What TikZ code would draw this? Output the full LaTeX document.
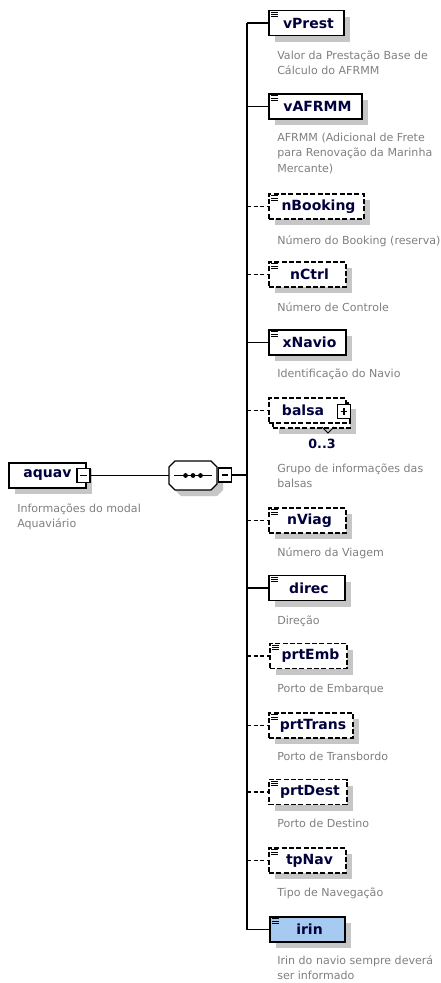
\documentclass[tikz,border=0pt]{standalone}
\usepackage{fontspec}
\setmainfont{DejaVu Sans}
\usetikzlibrary{shadows}
\definecolor{namec}{RGB}{0,0,60}
\definecolor{descc}{RGB}{128,128,128}
\definecolor{shadowc}{RGB}{198,198,198}
\definecolor{irinc}{RGB}{166,202,240}
\tikzset{
  bw/.style={minimum width=#1*0.75pt},
  shad/.style={drop shadow={shadow xshift=4.5pt,shadow yshift=-4.5pt,fill=shadowc,opacity=1}},
  boxbase/.style={rectangle,draw=black,line width=1pt,fill=white,minimum height=18.75pt,inner sep=0pt,font=\bfseries\fontsize{10.5}{12}\selectfont,text=namec},
  elem/.style={boxbase,shad},
  leaf/.style={elem,execute at begin node=\hspace*{3pt}},
  optbox/.style={dash pattern=on 3.75pt off 1.75pt},
  desc/.style={anchor=north west,inner sep=0pt,align=left,text=descc,font=\fontsize{8.3}{11.8}\selectfont},
  conn/.style={line width=0.9pt},
  optconn/.style={conn,dash pattern=on 3pt off 2pt},
  pmbox/.style={rectangle,draw=black,line width=0.8pt,fill=white,minimum width=9.75pt,minimum height=10.5pt,inner sep=0pt},
  iconline/.style={line width=0.6pt},
  pmline/.style={line width=0.8pt},
}
\newcommand\elicon[1]{\foreach \k in {0,1,2}{\draw[iconline] ([shift={(3,2.5+2.2*\k)}]#1.north west) -- ++(6.5,0);}}
\begin{document}
\begin{tikzpicture}[x=0.75pt,y=-0.75pt]
\useasboundingbox[fill=white] (0,0) rectangle (441,983);
\coordinate (spine) at (247,475.5);

% root element
\node[elem,bw=77] (aquav) at (47.5,475.5) {aquav};
\node[pmbox] (aquavpm) at (83.5,475.5) {};
\draw[pmline] ([xshift=-2.6pt]aquavpm.center) -- ([xshift=2.6pt]aquavpm.center);
\node[desc] (aquavd) at (17,501.5) {\vphantom{Á}Informações do modal\\Aquaviário};

% sequence compositor
\node[rectangle,minimum width=36pt,minimum height=21.75pt,inner sep=0pt] (seq) at (193,475.5) {};
\fill[shadowc] (181,467) -- (217,467) -- (223,473) -- (223,490) -- (217,496) -- (181,496) -- (175,490) -- (175,473) -- cycle;
\draw[line width=1pt,fill=white] (175,461) -- (211,461) -- (217,467) -- (217,484) -- (211,490) -- (175,490) -- (169,484) -- (169,467) -- cycle;
\draw[line width=0.9pt] ([xshift=4pt]seq.west) -- ([xshift=-4pt]seq.east);
\foreach \dx in {-5.6,0,5.6} \fill ([xshift=\dx pt]seq.center) circle (1.8pt);
\node[pmbox] (seqpm) at (225,475) {};
\draw[pmline] ([xshift=-2.6pt]seqpm.center) -- ([xshift=2.6pt]seqpm.center);

% children
\node[leaf,bw=75] (vPrest) at (306.5,23) {vPrest};
\node[leaf,bw=93] (vAFRMM) at (315.5,106.5) {vAFRMM};
\node[leaf,optbox,bw=95] (nBooking) at (316.5,206.5) {nBooking};
\node[leaf,optbox,bw=77] (nCtrl) at (307.5,274.5) {nCtrl};
\node[leaf,bw=77] (xNavio) at (307.5,342.5) {xNavio};
\node[elem,optbox,bw=77] (balsaback) at (311.5,415.5) {};
\node[boxbase,optbox,bw=77] (balsa) at (307.5,410.5) {\hspace*{-6.75pt}balsa};
\node[pmbox] (balsapm) at (344,411.5) {};
\draw[pmline] ([xshift=-2.6pt]balsapm.center) -- ([xshift=2.6pt]balsapm.center);
\draw[pmline] ([yshift=-2.6pt]balsapm.center) -- ([yshift=2.6pt]balsapm.center);
\draw[line width=0.6pt] (322,427) -- (328,433) -- (334,427);
\node[font=\bfseries\fontsize{9.5}{11}\selectfont,text=namec,inner sep=0pt] (balsaocc) at (322,444) {0..3};
\node[leaf,optbox,bw=77] (nViag) at (307.5,520.5) {nViag};
\node[leaf,bw=76] (direc) at (307,588) {direc};
\node[leaf,optbox,bw=77] (prtEmb) at (308.5,656) {prtEmb};
\node[leaf,optbox,bw=84] (prtTrans) at (311,725.5) {prtTrans};
\node[leaf,optbox,bw=78] (prtDest) at (308,792) {prtDest};
\node[leaf,optbox,bw=77] (tpNav) at (307.5,860.5) {tpNav};
\node[leaf,fill=irinc,bw=75] (irin) at (307.5,929.5) {irin};

\foreach \n in {vPrest,vAFRMM,nBooking,nCtrl,xNavio,nViag,direc,prtEmb,prtTrans,prtDest,tpNav,irin} {\elicon{\n}}

% descriptions
\node[desc] (vPrestd) at (277,48.5) {\vphantom{Á}Valor da Prestação Base de\\Cálculo do AFRMM};
\node[desc] (vAFRMMd) at (277,130.5) {\vphantom{Á}AFRMM (Adicional de Frete\\para Renovação da Marinha\\Mercante)};
\node[desc] (nBookingd) at (277,233.5) {\vphantom{Á}Número do Booking (reserva)};
\node[desc] (nCtrld) at (277,300.5) {\vphantom{Á}Número de Controle};
\node[desc] (xNaviod) at (277,366.5) {\vphantom{Á}Identificação do Navio};
\node[desc] (balsad) at (277,461.5) {\vphantom{Á}Grupo de informações das\\balsas};
\node[desc] (nViagd) at (277,545.5) {\vphantom{Á}Número da Viagem};
\node[desc] (direcd) at (277,613.5) {\vphantom{Á}Direção};
\node[desc] (prtEmbd) at (277,681.5) {\vphantom{Á}Porto de Embarque};
\node[desc] (prtTransd) at (277,749.5) {\vphantom{Á}Porto de Transbordo};
\node[desc] (prtDestd) at (277,816.5) {\vphantom{Á}Porto de Destino};
\node[desc] (tpNavd) at (277,885.5) {\vphantom{Á}Tipo de Navegação};
\node[desc] (irind) at (277,953.5) {\vphantom{Á}Irin do navio sempre deverá\\ser informado};

% connectors
\draw[conn] (aquavpm.east) -- (seq.west);
\draw[conn] (seqpm.east) -- (spine |- seqpm.east);
\draw[conn] (spine |- vPrest.west) -- (spine |- irin.west);
\foreach \n in {vPrest,vAFRMM,xNavio,direc,irin} \draw[conn] (spine |- \n.west) -- (\n.west);
\foreach \n in {nBooking,nCtrl,balsa,nViag,prtEmb,prtTrans,prtDest,tpNav} \draw[optconn] (spine |- \n.west) -- (\n.west);
\end{tikzpicture}
\end{document}
